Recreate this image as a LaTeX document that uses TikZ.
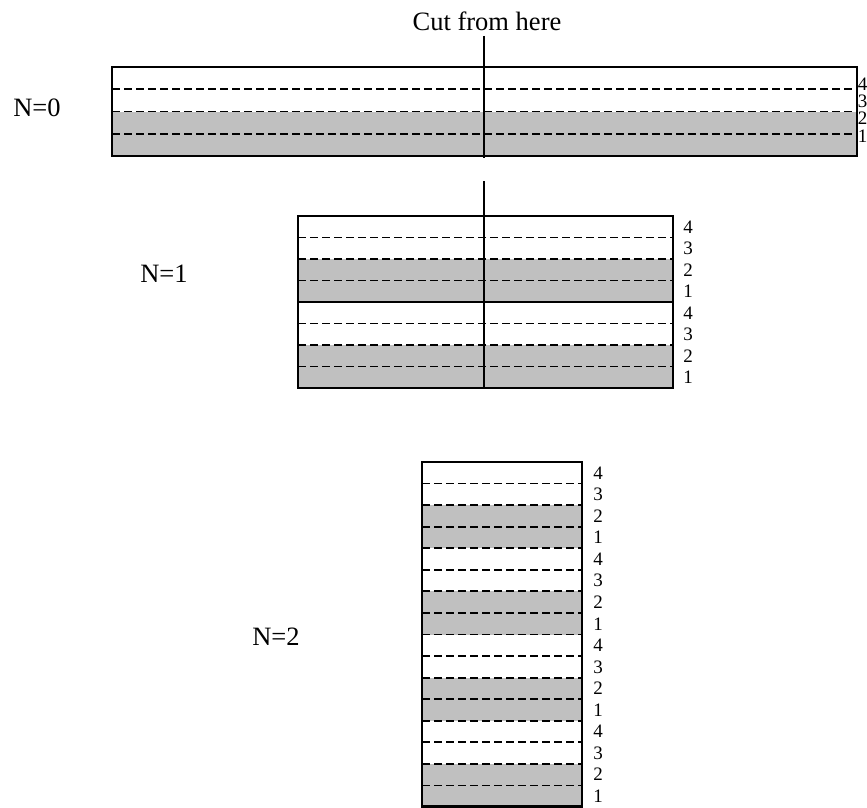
\documentclass[tikz,border=0pt]{standalone}
\usepackage{fontspec}
\setmainfont{Liberation Serif}
\definecolor{layergray}{HTML}{C0C0C0}
\begin{document}
\begin{tikzpicture}[x=1pt,y=-1pt,
  boxline/.style={draw=black,line width=2.2pt},
  sepline/.style={draw=black,line width=1.8pt,dash pattern=on 8pt off 4pt},
  unitline/.style={draw=black,line width=1.8pt},
  cutline/.style={draw=black,line width=1.8pt},
  biglabel/.style={font=\fontsize{26.5}{30}\selectfont,inner sep=0pt},
  numlabel/.style={font=\fontsize{19}{21}\selectfont,inner sep=0pt}]
\useasboundingbox (0,0) rectangle (867,808);
% N=0
\fill[layergray] (112,111.5) rectangle (857,156);
\foreach \i in {1,2,3}{\draw[sepline] (112,67+22.25*\i) -- (857,67+22.25*\i);}
\draw[boxline] (112,67) rectangle (857,156);
\foreach \t [count=\i from 0] in {4,3,2,1}{\node[numlabel] (a\i) at (862.5,84+17.3*\i) {\t};}
% N=1
\foreach \k in {0,1}{\fill[layergray] (298,216+86*\k+43) rectangle (673,216+86*\k+86);}
\foreach \i in {1,2,3,5,6,7}{\draw[sepline] (298,216+21.5*\i) -- (673,216+21.5*\i);}
\draw[unitline] (298,302) -- (673,302);
\draw[boxline] (298,216) rectangle (673,388);
\foreach \t [count=\i from 0] in {4,3,2,1,4,3,2,1}{\node[numlabel] (b\i) at (688,226.75+21.5*\i) {\t};}
% N=2
\foreach \k in {0,1,2,3}{\fill[layergray] (422,462+86.25*\k+43.125) rectangle (582,462+86.25*\k+86.25);}
\foreach \i in {1,...,15}{\draw[sepline] (422,462+21.5625*\i) -- (582,462+21.5625*\i);}
\draw[boxline] (422,462) rectangle (582,806.5);
\foreach \t [count=\i from 0] in {4,3,2,1,4,3,2,1,4,3,2,1,4,3,2,1}{\node[numlabel] (c\i) at (598,472.8+21.5625*\i) {\t};}
% cut line
\node[biglabel,anchor=base] (cut) at (487,31) {Cut from here};
\coordinate (c0top) at (484,36);
\coordinate (c0bot) at (484,158);
\coordinate (c1top) at (484,181);
\coordinate (c1bot) at (484,388);
\draw[cutline] (c0top) -- (c0bot);
\draw[cutline] (c1top) -- (c1bot);
% N labels
\node[biglabel,anchor=base] (n0) at (37,116) {N=0};
\node[biglabel] (n1) at (164,274) {N=1};
\node[biglabel] (n2) at (276,637) {N=2};
\end{tikzpicture}
\end{document}
